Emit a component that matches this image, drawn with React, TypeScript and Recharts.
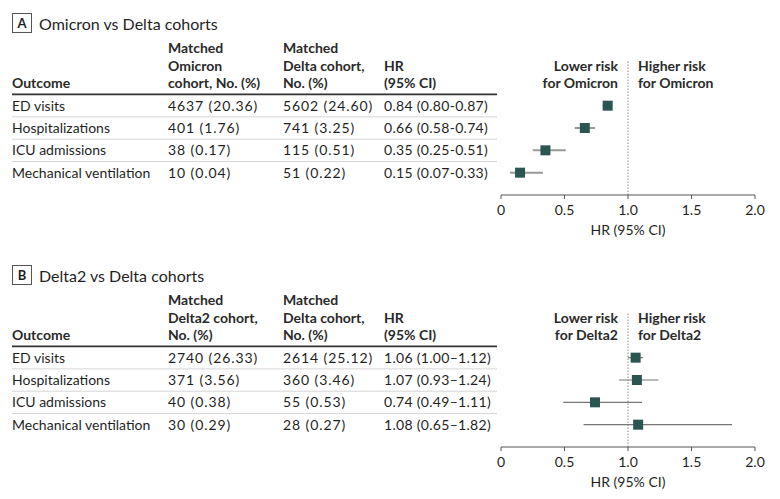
import { ScatterChart, Scatter, XAxis, YAxis, ErrorBar, ReferenceLine } from 'recharts'

const outcomes = ['ED visits', 'Hospitalizations', 'ICU admissions', 'Mechanical ventilation']

// Panel A: Omicron vs Delta
const omicronN = [4637, 401, 38, 10]
const omicronPct = [20.36, 1.76, 0.17, 0.04]
const deltaNA = [5602, 741, 115, 51]
const deltaPctA = [24.6, 3.25, 0.51, 0.22]
const hrA = [0.84, 0.66, 0.35, 0.15]
const loA = [0.8, 0.58, 0.25, 0.07]
const hiA = [0.87, 0.74, 0.51, 0.33]

// Panel B: Delta2 vs Delta
const delta2N = [2740, 371, 40, 30]
const delta2Pct = [26.33, 3.56, 0.38, 0.29]
const deltaNB = [2614, 360, 55, 28]
const deltaPctB = [25.12, 3.46, 0.53, 0.27]
const hrB = [1.06, 1.07, 0.74, 1.08]
const loB = [1.0, 0.93, 0.49, 0.65]
const hiB = [1.12, 1.24, 1.11, 1.82]

const xTicks = [0, 0.5, 1, 1.5, 2]

const TEXT = '#1f1f1f'
const MARKER = '#2a5550'
const FONT = 'Lato, sans-serif'

const fmtCount = (n: number, p: number) => `${n} (${p.toFixed(2)})`
const fmtHr = (h: number, l: number, u: number, dash: string) =>
  `${h.toFixed(2)} (${l.toFixed(2)}${dash}${u.toFixed(2)})`

interface PanelProps {
  top: number
  letter: string
  title: string
  col2: string[]
  col2Vals: string[]
  col3Vals: string[]
  hrText: string[]
  hr: number[]
  lo: number[]
  hi: number[]
  group: string
  barColor: string
  barWidth: number
}

function Panel(p: PanelProps) {
  const data = p.hr.map((h, i) => ({ row: i, hr: h, err: [h - p.lo[i], p.hi[i] - h] }))

  const renderTick = (props: any) => {
    const y = props.y
    const v = props.payload.value
    if (v === -1) {
      return (
        <g fontFamily={FONT} fill="#2a2a2a" fontSize={14} fontWeight={700}>
          <text x={12} y={y + 5}>Outcome</text>
          {p.col2.map((t, k) => (
            <text key={'a' + k} x={168} y={y + 5 - 17.5 * (2 - k)}>{t}</text>
          ))}
          <text x={283} y={y + 5 - 35}>Matched</text>
          <text x={283} y={y + 5 - 17.5}>Delta cohort,</text>
          <text x={283} y={y + 5}>No. (%)</text>
          <text x={384} y={y + 5 - 17.5}>HR</text>
          <text x={384} y={y + 5}>(95% CI)</text>
          <text x={618} y={y + 5 - 17.5} textAnchor="end">Lower risk</text>
          <text x={618} y={y + 5} textAnchor="end">{'for ' + p.group}</text>
          <text x={638} y={y + 5 - 17.5}>Higher risk</text>
          <text x={638} y={y + 5}>{'for ' + p.group}</text>
          <line x1={12} x2={497} y1={y + 11} y2={y + 11} stroke="#333" strokeWidth={1.6} />
        </g>
      )
    }
    return (
      <g fontFamily={FONT} fill={TEXT} fontSize={14}>
        <text x={12} y={y + 5}>{outcomes[v]}</text>
        <text x={168} y={y + 5} letterSpacing={0.9}>{p.col2Vals[v]}</text>
        <text x={283} y={y + 5} letterSpacing={0.9}>{p.col3Vals[v]}</text>
        <text x={384} y={y + 5} letterSpacing={0.3}>{p.hrText[v]}</text>
        {v < 3 && <line x1={12} x2={497} y1={y + 11.2} y2={y + 11.2} stroke="#d6d6d6" strokeWidth={1} />}
      </g>
    )
  }

  return (
    <div style={{ position: 'absolute', left: 0, top: p.top, width: 780, height: 241 }}>
      <div
        style={{
          position: 'absolute', left: 12, top: 13, width: 18, height: 18,
          border: '1px solid #555', fontFamily: FONT, fontWeight: 700, fontSize: 13,
          color: TEXT, textAlign: 'center', lineHeight: '18px',
        }}
      >
        {p.letter}
      </div>
      <div style={{ position: 'absolute', left: 39, top: 13, fontFamily: FONT, fontSize: 16, color: TEXT, lineHeight: '21px' }}>
        {p.title}
      </div>
      <ScatterChart width={780} height={241} margin={{ top: 61, right: 25, bottom: 0, left: 0 }}>
        <XAxis
          type="number"
          dataKey="hr"
          domain={[0, 2]}
          ticks={xTicks}
          tickFormatter={(v: number) => (v === 0 ? '0' : v.toFixed(1))}
          tickSize={4}
          tickMargin={6}
          stroke="#555"
          tick={{ fill: TEXT, fontSize: 14, fontFamily: FONT }}
          height={46}
          label={{ value: 'HR (95% CI)', position: 'insideBottom', offset: 6, fill: TEXT, fontSize: 14, fontFamily: FONT }}
        />
        <YAxis
          type="number"
          dataKey="row"
          domain={[-2, 4]}
          reversed
          ticks={[-1, 0, 1, 2, 3]}
          width={501}
          axisLine={false}
          tickLine={false}
          tick={renderTick}
          interval={0}
        />
        <ReferenceLine x={1} stroke="#888" strokeDasharray="1.5 1.5" />
        <Scatter
          data={data}
          isAnimationActive={false}
          shape={(s: any) => <rect x={s.cx - 5} y={s.cy - 5} width={10} height={10} fill={MARKER} />}
        >
          <ErrorBar dataKey="err" direction="x" width={0} stroke={p.barColor} strokeWidth={p.barWidth} />
        </Scatter>
      </ScatterChart>
    </div>
  )
}

export default function App() {
  return (
    <div style={{ position: 'absolute', left: 0, top: 0, width: 780, height: 499, background: '#fff' }}>
      <Panel
        top={0}
        letter="A"
        title="Omicron vs Delta cohorts"
        col2={['Matched', 'Omicron', 'cohort, No. (%)']}
        col2Vals={omicronN.map((n, i) => fmtCount(n, omicronPct[i]))}
        col3Vals={deltaNA.map((n, i) => fmtCount(n, deltaPctA[i]))}
        hrText={hrA.map((h, i) => fmtHr(h, loA[i], hiA[i], '-'))}
        hr={hrA}
        lo={loA}
        hi={hiA}
        group="Omicron"
        barColor="#9a9a9a"
        barWidth={2}
      />
      <Panel
        top={252}
        letter="B"
        title="Delta2 vs Delta cohorts"
        col2={['Matched', 'Delta2 cohort,', 'No. (%)']}
        col2Vals={delta2N.map((n, i) => fmtCount(n, delta2Pct[i]))}
        col3Vals={deltaNB.map((n, i) => fmtCount(n, deltaPctB[i]))}
        hrText={hrB.map((h, i) => fmtHr(h, loB[i], hiB[i], '\u2013'))}
        hr={hrB}
        lo={loB}
        hi={hiB}
        group="Delta2"
        barColor="#777"
        barWidth={1.2}
      />
    </div>
  )
}
